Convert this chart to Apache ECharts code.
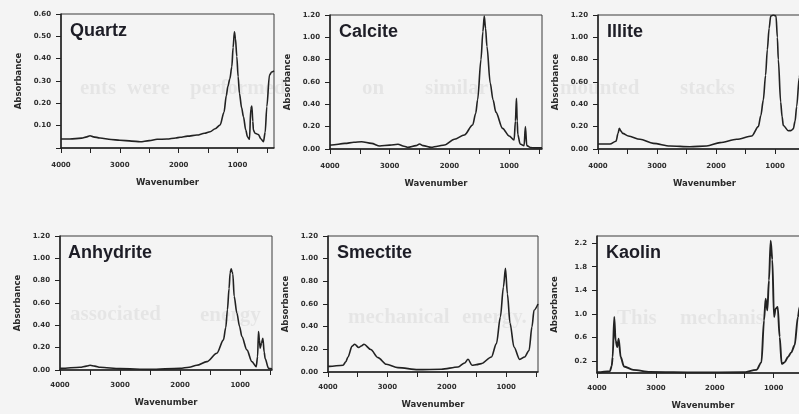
<!DOCTYPE html>
<html>
<head>
<meta charset="utf-8">
<title>IR absorbance spectra of reference minerals</title>
<script src="https://cdn.jsdelivr.net/npm/echarts@6/dist/echarts.min.js"></script>
<style>
  html, body { margin: 0; padding: 0; background: #f4f4f4; }
  #chart { width: 799px; height: 414px; }
</style>
</head>
<body>
<div id="chart"></div>
<script>
// Mineral names, one panel each (reading order)
const minerals = ['Quartz', 'Calcite', 'Illite', 'Anhydrite', 'Smectite', 'Kaolin'];

// Spectra as [wavenumber (cm-1), absorbance]
const quartz = [
  [4000,0.040],[3850,0.040],[3650,0.044],[3560,0.050],[3507,0.055],[3450,0.050],[3337,0.045],
  [3150,0.038],[3000,0.035],[2800,0.031],[2656,0.028],[2500,0.033],[2367,0.039],[2200,0.040],
  [2050,0.045],[1976,0.048],[1850,0.053],[1690,0.058],[1560,0.066],[1466,0.073],[1380,0.086],
  [1296,0.103],[1230,0.160],[1190,0.235],[1165,0.275],[1130,0.310],[1097,0.364],[1075,0.450],
  [1053,0.520],[1035,0.490],[1012,0.410],[990,0.320],[967,0.245],[930,0.180],[899,0.140],
  [860,0.080],[831,0.050],[797,0.039],[774,0.175],[757,0.188],[740,0.120],[730,0.080],
  [701,0.066],[645,0.060],[600,0.040],[560,0.028],[530,0.070],[502,0.185],[457,0.327],
  [420,0.340],[380,0.345]
];
const calcite = [
  [4000,0.035],[3972,0.036],[3750,0.050],[3600,0.060],[3472,0.065],[3305,0.050],[3167,0.027],
  [3000,0.035],[2862,0.042],[2760,0.025],[2695,0.015],[2560,0.030],[2500,0.045],[2440,0.030],
  [2305,0.015],[2200,0.025],[2083,0.036],[1917,0.087],[1750,0.125],[1611,0.215],[1560,0.320],
  [1528,0.440],[1472,0.800],[1440,1.050],[1417,1.190],[1395,1.080],[1372,0.920],[1317,0.590],
  [1270,0.440],[1222,0.330],[1111,0.185],[1000,0.116],[917,0.080],[895,0.250],[878,0.454],
  [865,0.250],[855,0.130],[817,0.045],[750,0.030],[728,0.200],[705,0.030],[638,0.012],
  [583,0.010],[450,0.010]
];
const illite = [
  [4000,0.045],[3797,0.045],[3695,0.070],[3660,0.140],[3639,0.185],[3610,0.160],[3582,0.140],
  [3486,0.116],[3288,0.087],[3062,0.050],[2780,0.027],[2441,0.020],[2158,0.027],[1932,0.057],
  [1650,0.087],[1395,0.116],[1283,0.200],[1240,0.300],[1198,0.440],[1160,0.660],[1130,0.890],
  [1100,1.080],[1073,1.190],[1030,1.200],[983,1.190],[960,1.000],[944,0.800],[904,0.420],
  [880,0.290],[859,0.210],[774,0.164],[730,0.165],[690,0.180],[660,0.250],[633,0.380],
  [589,0.640],[550,0.850]
];
const anhydrite = [
  [4000,0.015],[3972,0.015],[3667,0.024],[3560,0.035],[3500,0.042],[3420,0.035],[3333,0.024],
  [3000,0.012],[2500,0.006],[2000,0.015],[1850,0.025],[1722,0.042],[1555,0.075],[1388,0.150],
  [1278,0.270],[1240,0.380],[1212,0.540],[1185,0.730],[1167,0.870],[1150,0.906],[1135,0.880],
  [1122,0.860],[1100,0.660],[1055,0.510],[1010,0.390],[972,0.300],[888,0.180],[805,0.075],
  [733,0.030],[710,0.120],[695,0.345],[680,0.270],[667,0.195],[645,0.240],[622,0.285],
  [600,0.160],[583,0.100],[528,0.015],[470,0.010]
];
const smectite = [
  [4000,0.050],[3971,0.050],[3747,0.060],[3700,0.090],[3663,0.133],[3596,0.227],[3551,0.245],
  [3483,0.216],[3440,0.230],[3394,0.245],[3281,0.198],[3158,0.127],[3017,0.068],[2822,0.039],
  [2485,0.021],[2091,0.024],[1811,0.044],[1699,0.080],[1643,0.112],[1576,0.060],[1500,0.065],
  [1418,0.074],[1249,0.133],[1165,0.250],[1098,0.486],[1047,0.750],[1013,0.914],[980,0.690],
  [936,0.430],[869,0.220],[773,0.110],[689,0.133],[616,0.190],[566,0.400],[532,0.545],
  [465,0.600]
];
const kaolin = [
  [4000,0.012],[3978,0.012],[3780,0.030],[3750,0.120],[3734,0.270],[3707,0.950],[3684,0.550],
  [3656,0.440],[3632,0.580],[3598,0.270],[3542,0.110],[3385,0.053],[3102,0.019],[2310,0.010],
  [1520,0.012],[1293,0.053],[1208,0.180],[1164,0.890],[1136,1.260],[1108,1.060],[1080,1.570],
  [1051,2.240],[1023,1.920],[994,0.950],[966,1.090],[932,1.120],[898,0.610],[864,0.155],
  [814,0.180],[757,0.270],[700,0.350],[644,0.470],[588,0.950],[559,1.120],[450,1.200]
];
const spectra = [quartz, calcite, illite, anhydrite, smectite, kaolin];

// Axis ticks and labels
const wavenumberTicks = [4000, 3500, 3000, 2500, 2000, 1500, 1000, 500];
const wavenumberLabels = [4000, 3000, 2000, 1000];
const absTicksQuartz = [0, 0.1, 0.2, 0.3, 0.4, 0.5, 0.6];
const absLabelsQuartz = [0.1, 0.2, 0.3, 0.4, 0.5, 0.6];
const absTicks = [0, 0.2, 0.4, 0.6, 0.8, 1.0, 1.2];
const absTicksKaolin = [0.2, 0.6, 1.0, 1.4, 1.8, 2.2];

const yTicks  = [absTicksQuartz, absTicks, absTicks, absTicks, absTicks, absTicksKaolin];
const yLabels = [absLabelsQuartz, absTicks, absTicks, absTicks, absTicks, absTicksKaolin];
const yMax = [0.6, 1.2, 1.2, 1.2, 1.2, 2.32];
const xMin = [380, 450, 390, 470, 465, 400];
const yDigits = [2, 2, 2, 2, 2, 1];

// Panel frames (plot area in px)
const panels = [
  { left: 61,  top: 14,  width: 213, height: 134, row: 0 },
  { left: 330, top: 15,  width: 212, height: 134, row: 0 },
  { left: 598, top: 15,  width: 213, height: 134, row: 0 },
  { left: 60,  top: 236, width: 212, height: 134, row: 1 },
  { left: 328, top: 236, width: 210, height: 136, row: 1 },
  { left: 597, top: 236, width: 212, height: 137, row: 1 }
];

const ink = '#222222';
const labelFont = { fontFamily: 'DejaVu Sans', fontWeight: 'bold', fontSize: 7, color: '#2e2e2e' };
const nameFont  = { fontFamily: 'DejaVu Sans', fontWeight: 'bold', fontSize: 8.5, color: '#2a2a2a' };

const grid = [], xAxis = [], yAxis = [], series = [], title = [];

panels.forEach((p, i) => {
  grid.push({
    left: p.left, top: p.top, width: p.width, height: p.height,
    show: true, borderColor: '#3a3a3a', borderWidth: 1, backgroundColor: 'transparent',
    containLabel: false, outerBoundsMode: 'none'
  });
  xAxis.push({
    type: 'value', gridIndex: i, inverse: true, min: xMin[i], max: 4000,
    name: 'Wavenumber', nameLocation: 'middle', nameGap: p.row === 0 ? 30 : 28,
    nameTextStyle: nameFont,
    axisLine: { show: true, onZero: false, lineStyle: { color: ink, width: 1.5 } },
    axisTick: { show: true, length: 5, customValues: wavenumberTicks, lineStyle: { color: ink, width: 1 } },
    axisLabel: Object.assign({ margin: p.row === 0 ? 14 : 12, customValues: wavenumberLabels,
      formatter: v => String(v) }, labelFont),
    splitLine: { show: false }
  });
  yAxis.push({
    type: 'value', gridIndex: i, min: 0, max: yMax[i],
    name: 'Absorbance', nameLocation: 'middle', nameGap: 38, nameRotate: 90,
    nameTextStyle: nameFont,
    axisLine: { show: true, onZero: false, lineStyle: { color: ink, width: 1.5 } },
    axisTick: { show: true, length: 5, customValues: yTicks[i], lineStyle: { color: ink, width: 1 } },
    axisLabel: Object.assign({ margin: 10, customValues: yLabels[i],
      formatter: v => Number(v).toFixed(yDigits[i]) }, labelFont),
    splitLine: { show: false }
  });
  series.push({
    type: 'line', name: minerals[i], xAxisIndex: i, yAxisIndex: i,
    data: spectra[i], showSymbol: false, smooth: 0.3, smoothMonotone: 'x', clip: true,
    lineStyle: { color: ink, width: i === 5 ? 1.9 : 1.6 }, z: 3
  });
  title.push({
    text: minerals[i], left: p.left + (i === 3 ? 8 : 9),
    top: p.top + 8, padding: 0,
    textStyle: { fontFamily: 'Liberation Sans', fontWeight: 'bold', fontSize: 18, color: '#1d1d26' }
  });
});

// Faint print of the page text running behind the figure
const pageWords = [
  ['ents', 80, 90], ['were', 127, 90], ['performed', 190, 90], ['on', 362, 90],
  ['similar', 425, 90], ['mounted', 560, 90], ['stacks', 680, 90],
  ['associated', 70, 316], ['energy', 200, 317], ['mechanical', 348, 319], ['energy.', 462, 319],
  ['This', 617, 320], ['mechanis', 680, 320]
];
const graphic = pageWords.map(([t, x, y]) => ({
  type: 'text', left: x, top: y - 12, z: -10, silent: true,
  style: { text: t, fill: 'rgba(0,0,0,0.06)', font: 'bold 21px "Liberation Serif"' }
}));

const chart = echarts.init(document.getElementById('chart'), null, { renderer: 'canvas' });
chart.setOption({
  backgroundColor: '#f4f4f4',
  animation: false,
  title, grid, xAxis, yAxis, series, graphic
});
</script>
</body>
</html>
